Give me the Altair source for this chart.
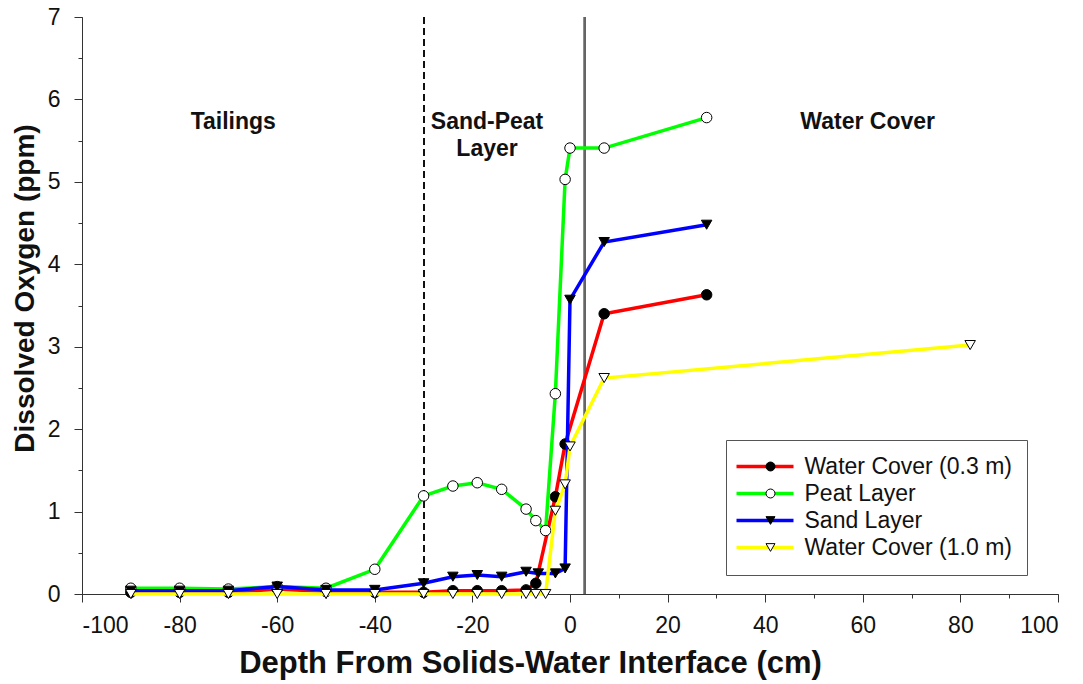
import altair as alt
import pandas as pd

SERIES = ["Water Cover (0.3 m)", "Peat Layer", "Sand Layer", "Water Cover (1.0 m)"]
MARKER_KEYS = ["m1", "m2", "m3", "m4"]
COLORS = ["#ff0000", "#00ff00", "#0000ff", "#ffff00"]
SHAPES = ["circle", "circle", "triangle-down", "triangle-down"]
FILLS = ["#000000", "#ffffff", "#000000", "#ffffff"]
OUTLINES = ["#000000", "#000000", "#000000", "#000000"]

wc03_depth = [-90, -80, -70, -60, -50, -40, -30, -24, -19, -14, -9, -7, -3, -1, 7, 28]
wc03_do = [0.02, 0.02, 0.02, 0.06, 0.03, 0.02, 0.02, 0.04, 0.04, 0.04, 0.05, 0.13, 1.18, 1.82, 3.40, 3.63]

peat_depth = [-90, -80, -70, -60, -50, -40, -30, -24, -19, -14, -9, -7, -5, -3, -1, 0, 7, 28]
peat_do = [0.07, 0.07, 0.06, 0.09, 0.07, 0.30, 1.19, 1.31, 1.35, 1.27, 1.03, 0.89, 0.77, 2.43, 5.03, 5.41, 5.41, 5.78]

sand_depth = [-90, -80, -70, -60, -50, -40, -30, -24, -19, -14, -9, -6.5, -3, -1, 0, 7, 28]
sand_do = [0.04, 0.04, 0.04, 0.09, 0.05, 0.05, 0.13, 0.21, 0.23, 0.21, 0.27, 0.25, 0.25, 0.31, 3.57, 4.27, 4.48]

wc10_depth = [-90, -80, -70, -60, -50, -40, -30, -24, -19, -14, -9, -7, -5, -3, -1, 0, 7, 82]
wc10_do = [0, 0, 0, 0, 0, 0, 0, 0, 0, 0, 0, 0, 0, 1.01, 1.33, 1.79, 2.62, 3.02]

zone_labels = ["Tailings", "Sand-Peat\nLayer", "Water Cover"]
zone_x = [-69, -17, 61]
zone_y = [5.73, 5.73, 5.73]

boundary_dashed = -30
boundary_solid = 3

rows = []
for name, key, xs, ys in zip(SERIES, MARKER_KEYS, [wc03_depth, peat_depth, sand_depth, wc10_depth],
                             [wc03_do, peat_do, sand_do, wc10_do]):
    for i, (x, y) in enumerate(zip(xs, ys)):
        rows.append({"series": name, "series_m": key, "depth": x, "do": y, "idx": i})
df = pd.DataFrame(rows)

zones = pd.DataFrame({"label": zone_labels, "x": zone_x, "y": zone_y})

FONT = "Liberation Sans"

x_scale = alt.Scale(domain=[-100, 100], nice=False, zero=False)
y_scale = alt.Scale(domain=[0, 7], nice=False, zero=False)
color_scale = alt.Scale(domain=SERIES, range=COLORS)
shape_scale = alt.Scale(domain=MARKER_KEYS, range=SHAPES)
fill_scale = alt.Scale(domain=MARKER_KEYS, range=FILLS)
outline_scale = alt.Scale(domain=MARKER_KEYS, range=OUTLINES)

x_major = alt.Axis(values=list(range(-100, 101, 20)), tickSize=8, tickColor="#333333",
                   domainColor="#333333", labelFontSize=23, labelFont=FONT, labelColor="#111111",
                   labelPadding=12, labelExpr="toString(datum.value)",
                   title="Depth From Solids-Water Interface (cm)",
                   titleFont=FONT, titleFontSize=31, titleFontWeight="bold", titleColor="#111111",
                   titlePadding=11, titleX=448, grid=False, orient="bottom")
y_major = alt.Axis(values=list(range(0, 8)), tickSize=8, tickColor="#333333",
                   domainColor="#333333", labelFontSize=23, labelFont=FONT, labelColor="#111111",
                   labelPadding=14, title="Dissolved Oxygen (ppm)",
                   titleFont=FONT, titleFontSize=28, titleFontWeight="bold", titleColor="#111111",
                   titlePadding=8, titleY=271, grid=False, orient="left")
x_minor = alt.Axis(values=list(range(-100, 101, 10)), tickSize=4, tickColor="#333333",
                   labels=False, domain=False, title="", grid=False, orient="bottom")
y_minor = alt.Axis(values=[v / 2 for v in range(0, 15)], tickSize=4, tickColor="#333333",
                   labels=False, domain=False, title="", grid=False, orient="left")

LEG_X = 644
LEG_Y = 423
line_legend = alt.Legend(title=None, orient="none", legendX=LEG_X, legendY=LEG_Y,
                         symbolType="M-3,0H3", symbolSize=361, symbolStrokeWidth=3.5,
                         symbolOffset=12.5, labelOffset=28, labelLimit=500,
                         labelFontSize=23, labelFont=FONT, labelColor="#111111",
                         rowPadding=3, padding=15, strokeColor="#555555", fillColor="white",
                         cornerRadius=0, zindex=1)
marker_legend = alt.Legend(title=None, orient="none", legendX=LEG_X, legendY=LEG_Y,
                           symbolSize=80, symbolStrokeWidth=1, symbolOffset=18,
                           labelFontSize=23, labelFont=FONT, labelExpr="''", labelOffset=8,
                           rowPadding=3, padding=15, zindex=2)

base = alt.Chart(df)

rule_dash = base.mark_rule(color="#111111", strokeWidth=1.2, strokeDash=[7, 4]).encode(
    x=alt.X(datum=boundary_dashed, scale=x_scale, axis=None)
)
rule_solid = base.mark_rule(color="#666666", strokeWidth=1.3).encode(
    x=alt.X(datum=boundary_solid, scale=x_scale, axis=None)
)

axis_layer = base.mark_point(opacity=0).encode(
    x=alt.X("depth:Q", scale=x_scale, axis=x_minor),
    y=alt.Y("do:Q", scale=y_scale, axis=y_minor),
)

layers = [rule_dash, rule_solid, axis_layer]
for i, name in enumerate(SERIES):
    sub = base.transform_filter(alt.datum.series == name)
    line = sub.mark_line(strokeWidth=3.5).encode(
        x=alt.X("depth:Q", scale=x_scale, axis=x_major if i == 0 else None),
        y=alt.Y("do:Q", scale=y_scale, axis=y_major if i == 0 else None),
        color=alt.Color("series:N", scale=color_scale, legend=line_legend),
        order="idx:Q",
    )
    pts = sub.mark_point(filled=True, size=110, strokeWidth=1, opacity=1).encode(
        x=alt.X("depth:Q", scale=x_scale, axis=None),
        y=alt.Y("do:Q", scale=y_scale, axis=None),
        shape=alt.Shape("series_m:N", scale=shape_scale, legend=marker_legend),
        fill=alt.Fill("series_m:N", scale=fill_scale, legend=marker_legend),
        stroke=alt.Stroke("series_m:N", scale=outline_scale, legend=marker_legend),
    )
    layers += [line, pts]

text = alt.Chart(zones).mark_text(font=FONT, fontSize=23, fontWeight="bold", color="#111111",
                                  lineHeight=27, lineBreak="\n", baseline="middle",
                                  align="center").encode(
    x=alt.X("x:Q", scale=x_scale, axis=None),
    y=alt.Y("y:Q", scale=y_scale, axis=None),
    text="label:N",
)
layers.append(text)

chart = alt.layer(*layers).resolve_axis(x="independent", y="independent").properties(
    width=976, height=577,
    autosize=alt.AutoSizeParams(type="none"),
    padding={"left": 82, "top": 17, "right": 25, "bottom": 90},
    background="white",
).configure_view(stroke=None)

chart.save("out.html", embed_options={"renderer": "svg", "actions": False})
